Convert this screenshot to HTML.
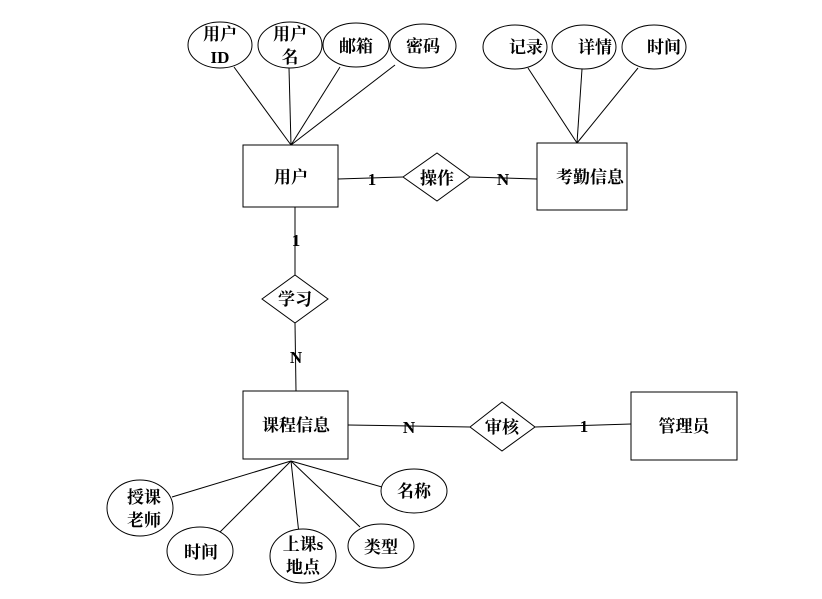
<!DOCTYPE html>
<html><head><meta charset="utf-8"><style>
html,body{margin:0;padding:0;background:#fff;}
svg text{font-family:"Liberation Serif","Noto Serif CJK SC",serif;font-weight:bold;font-size:17px;fill:#000;}
</style></head><body>
<svg width="822" height="594" viewBox="0 0 822 594" xmlns="http://www.w3.org/2000/svg">
<g stroke="#000" stroke-width="1" fill="none">
<!-- user attr lines -->
<line x1="234" y1="67" x2="291" y2="145"/>
<line x1="289" y1="68" x2="291" y2="145"/>
<line x1="340" y1="67" x2="291" y2="145"/>
<line x1="395" y1="65" x2="291" y2="145"/>
<!-- attendance attr lines -->
<line x1="528" y1="68" x2="577" y2="143"/>
<line x1="582" y1="69" x2="577" y2="143"/>
<line x1="638" y1="68" x2="577" y2="143"/>
<!-- relations -->
<line x1="338" y1="179" x2="403" y2="177"/>
<line x1="470" y1="177" x2="537" y2="179"/>
<line x1="295" y1="207" x2="295" y2="275"/>
<line x1="295" y1="323" x2="296" y2="391"/>
<line x1="348" y1="425" x2="470" y2="427"/>
<line x1="535" y1="427" x2="631" y2="424"/>
<!-- course attr lines -->
<line x1="291" y1="461" x2="172" y2="497"/>
<line x1="291" y1="461" x2="220" y2="532"/>
<line x1="291" y1="461" x2="299" y2="534"/>
<line x1="291" y1="461" x2="360" y2="527"/>
<line x1="291" y1="461" x2="382" y2="487"/>
</g>
<g stroke="#000" stroke-width="1" fill="#fff">
<ellipse cx="220" cy="45" rx="32" ry="23"/>
<ellipse cx="290" cy="45" rx="32" ry="23"/>
<ellipse cx="356" cy="45" rx="33" ry="22"/>
<ellipse cx="423" cy="46" rx="33" ry="22"/>
<ellipse cx="515" cy="47" rx="32" ry="22"/>
<ellipse cx="584" cy="47" rx="32" ry="22"/>
<ellipse cx="654" cy="47" rx="32" ry="22"/>
<rect x="243" y="145" width="95" height="62"/>
<rect x="537" y="143" width="90" height="67"/>
<polygon points="403,177 437,153 470,177 437,201"/>
<polygon points="262,299 295,275 328,299 295,323"/>
<rect x="243" y="391" width="105" height="68"/>
<polygon points="470,427 502,402 535,427 502,451"/>
<rect x="631" y="392" width="106" height="68"/>
<ellipse cx="140" cy="508" rx="33" ry="28"/>
<ellipse cx="200" cy="551" rx="33" ry="24"/>
<ellipse cx="303" cy="556" rx="33" ry="27"/>
<ellipse cx="381" cy="546" rx="33" ry="22"/>
<ellipse cx="414" cy="491" rx="33" ry="22"/>
</g>
<g text-anchor="middle">
<text x="220" y="40">用户</text><text x="220" y="63">ID</text>
<text x="290" y="40">用户</text><text x="290" y="63">名</text>
<text x="356" y="52">邮箱</text>
<text x="423" y="52">密码</text>
<text x="526" y="53">记录</text>
<text x="595" y="53">详情</text>
<text x="664" y="53">时间</text>
<text x="291" y="183">用户</text>
<text x="590" y="183">考勤信息</text>
<text x="437" y="184">操作</text>
<text x="372" y="185">1</text>
<text x="503" y="185">N</text>
<text x="296" y="246">1</text>
<text x="295" y="305">学习</text>
<text x="296" y="363">N</text>
<text x="296" y="431">课程信息</text>
<text x="409" y="433">N</text>
<text x="502" y="433">审核</text>
<text x="584" y="432">1</text>
<text x="684" y="432">管理员</text>
<text x="144" y="503">授课</text><text x="144" y="526">老师</text>
<text x="201" y="558">时间</text>
<text x="303" y="550">上课s</text><text x="303" y="573">地点</text>
<text x="381" y="553">类型</text>
<text x="414" y="497">名称</text>
</g>
</svg>
</body></html>
